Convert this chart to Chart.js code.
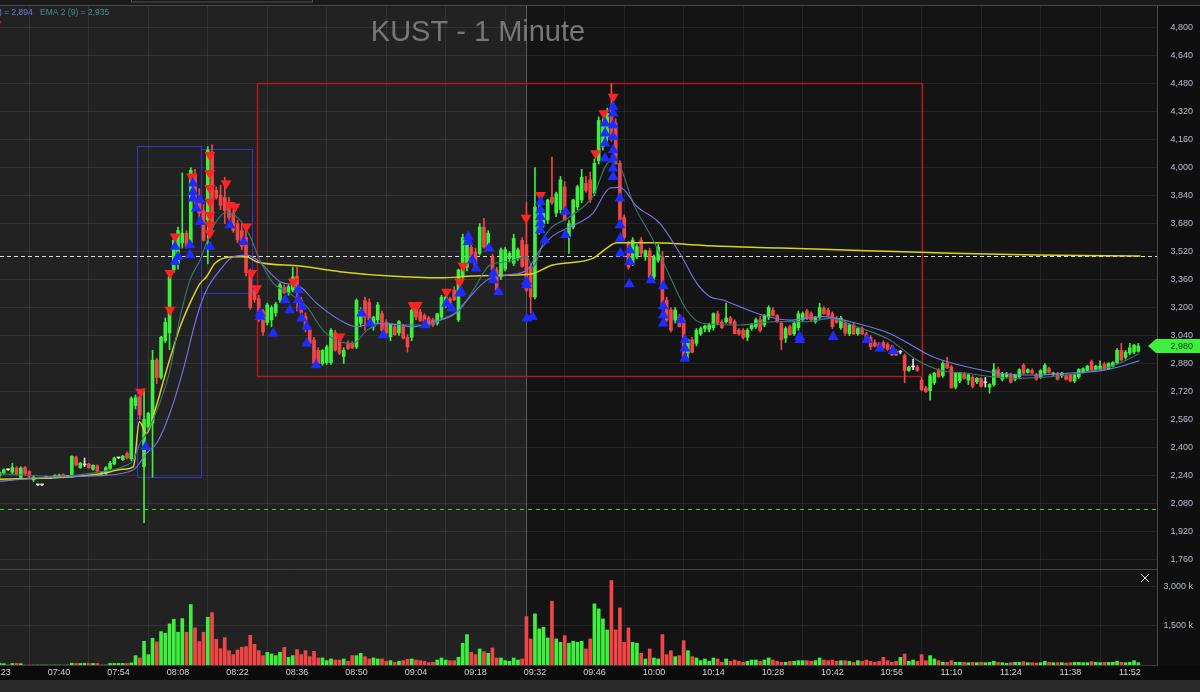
<!DOCTYPE html>
<html>
<head>
<meta charset="utf-8">
<script src="https://cdn.jsdelivr.net/npm/chart.js@4.4.1/dist/chart.umd.min.js"></script>
<style>
  html, body { margin: 0; padding: 0; background: #0f0f0f; }
  #wrap { width: 1200px; height: 692px; }
</style>
</head>
<body>
<div id="wrap"><canvas id="kust" width="1200" height="692"></canvas></div>
<script>
// one bar per minute, minute counted from 07:00
const firstMinute = 26;

const opens = [
  2240,2255,2272,2258,2282,2228,2285,2262,2215,2186,
  2186,2228,2226,2232,2232,2245,2235,2232,2345,2285,
  2300,2305,2275,2295,2250,2250,2280,2305,2340,2330,
  2365,2335,2640,2690,2290,2516,2540,2900,2800,3010,
  3055,3415,3450,3570,3625,3570,3960,3820,3755,3700,
  4090,3870,3840,3830,3800,3740,3680,3640,3600,3400,
  3300,3250,3180,3115,3130,3170,3243,3315,3285,3300,
  3380,3243,3150,3070,3015,2955,2880,2885,2885,3055,
  3015,2920,2998,2995,2975,3110,3240,3230,3090,3130,
  3165,3115,3033,3090,3055,3090,3030,3030,3200,3175,
  3155,3140,3130,3110,3145,3215,3250,3300,3130,3375,
  3430,3545,3515,3510,3660,3545,3490,3415,3375,3420,
  3480,3453,3480,3585,3560,3430,3260,3640,3680,3700,
  3830,3740,3760,3890,3605,3660,3775,3815,3910,3930,
  3855,4040,4120,4175,4330,4255,4025,3715,3568,3453,
  3490,3586,3490,3525,3375,3470,3490,3243,3186,3128,
  3148,3128,2940,3015,2995,3050,3080,3075,3085,3165,
  3115,3118,3140,3120,3070,3070,3030,3080,3090,3130,
  3100,3145,3185,3155,3110,3025,3090,3050,3085,3130,
  3180,3165,3120,3145,3195,3185,3165,3140,3085,3110,
  3050,3100,3050,3080,3050,3030,3000,2990,3000,2990,
  2975,2950,2945,2925,2840,2860,2860,2785,2740,2725,
  2770,2842,2810,2880,2860,2745,2780,2820,2785,2800,
  2775,2795,2770,2745,2760,2845,2790,2805,2815,2790,
  2805,2870,2830,2840,2815,2805,2825,2850,2820,2820,
  2810,2810,2815,2780,2805,2830,2840,2890,2845,2845,
  2875,2850,2865,2885,2955,2915,2940,2945,2950
];
const highs = [
  2262,2278,2278,2310,2290,2290,2292,2268,2235,2188,
  2188,2232,2230,2245,2248,2250,2238,2352,2350,2315,
  2340,2310,2300,2300,2254,2290,2320,2345,2344,2355,
  2375,2690,2700,2720,2735,2600,2956,2910,3035,3140,
  3390,3600,3660,3970,3640,4000,3990,3880,3790,4120,
  4130,3890,3900,3945,3830,3760,3700,3680,3660,3420,
  3320,3270,3190,3225,3210,3230,3340,3330,3330,3430,
  3430,3260,3170,3090,3030,2970,2960,2985,3080,3070,
  3030,2970,3010,3005,3250,3200,3260,3250,3150,3230,
  3180,3130,3110,3100,3125,3105,3045,3190,3215,3190,
  3165,3150,3140,3165,3270,3270,3260,3320,3420,3620,
  3600,3570,3540,3680,3710,3640,3505,3430,3540,3545,
  3520,3620,3540,3600,3800,3440,4000,3800,3760,3820,
  4060,3860,3950,3920,3700,3820,3900,3990,3950,3975,
  4050,4290,4280,4340,4480,4280,4040,3730,3580,3600,
  3560,3600,3530,3540,3500,3560,3520,3260,3200,3200,
  3160,3140,3020,3030,3080,3090,3100,3110,3170,3180,
  3130,3225,3150,3130,3080,3080,3080,3110,3140,3150,
  3160,3210,3200,3160,3120,3090,3100,3120,3180,3175,
  3190,3175,3150,3225,3205,3195,3175,3150,3150,3120,
  3110,3110,3085,3090,3060,3040,3015,3000,3010,3000,
  2985,2960,2955,2935,2865,2905,2870,2800,2750,2820,
  2830,2850,2890,2915,2870,2830,2830,2830,2820,2810,
  2800,2800,2800,2765,2880,2860,2830,2830,2825,2820,
  2850,2880,2850,2850,2825,2845,2880,2860,2830,2830,
  2830,2820,2820,2820,2850,2855,2870,2900,2870,2895,
  2885,2885,2890,2965,2995,2955,2995,2990,2995
];
const lows = [
  2225,2245,2268,2250,2240,2220,2240,2225,2205,2182,
  2182,2224,2222,2228,2230,2225,2232,2228,2295,2280,
  2290,2280,2270,2260,2246,2245,2275,2300,2336,2325,
  2335,2325,2620,2560,1970,2500,2230,2765,2790,3000,
  2960,3400,3420,3540,3540,3550,3790,3700,3580,3450,
  3640,3820,3760,3680,3700,3630,3570,3530,3380,3190,
  3230,3120,3040,3100,3090,3150,3230,3280,3270,3290,
  3180,3150,3060,2990,2870,2870,2870,2875,2875,2950,
  2930,2880,2960,2965,2965,3090,3070,3100,3070,3110,
  3060,3045,3010,3040,3040,3020,2945,3010,3130,3120,
  3100,3090,3090,3100,3135,3200,3200,3240,3120,3360,
  3410,3470,3420,3500,3540,3530,3410,3300,3360,3410,
  3460,3440,3470,3430,3290,3170,3250,3620,3660,3680,
  3790,3720,3740,3700,3510,3650,3760,3800,3860,3800,
  3840,4020,4100,4150,4150,4020,3690,3590,3420,3440,
  3480,3490,3470,3370,3360,3460,3190,3120,3060,3110,
  3090,2920,2900,2940,2980,3040,3060,3060,3070,3100,
  3080,3110,3105,3050,3040,3020,3010,3070,3080,3060,
  3090,3130,3150,3115,2960,3000,3040,3040,3070,3120,
  3130,3125,3110,3130,3160,3150,3080,3110,3075,3040,
  3040,3045,3040,3045,3010,2960,2975,2965,2965,2955,
  2925,2925,2935,2770,2835,2845,2835,2725,2715,2670,
  2760,2800,2800,2850,2740,2735,2770,2790,2760,2740,
  2765,2745,2745,2710,2750,2800,2780,2800,2770,2780,
  2795,2820,2825,2820,2785,2795,2820,2825,2810,2785,
  2800,2785,2775,2770,2795,2825,2835,2840,2840,2840,
  2840,2845,2860,2880,2895,2905,2930,2935,2945
];
const closes = [
  2258,2272,2272,2285,2250,2282,2250,2235,2230,2186,
  2186,2228,2226,2240,2242,2230,2235,2350,2300,2310,
  2300,2285,2298,2265,2250,2285,2310,2340,2340,2350,
  2340,2680,2685,2585,2560,2596,2899,2800,3030,3115,
  3375,3585,3640,3625,3545,3985,3820,3740,3585,4100,
  3660,3830,3785,3755,3715,3640,3585,3550,3400,3200,
  3245,3130,3060,3215,3200,3220,3330,3285,3320,3375,
  3300,3170,3075,2995,2880,2880,2955,2975,3070,2957,
  2940,2955,2965,2970,3240,3185,3145,3130,3145,3215,
  3070,3055,3110,3045,3120,3025,2975,3185,3145,3125,
  3115,3100,3100,3165,3260,3260,3205,3245,3415,3600,
  3585,3470,3430,3660,3545,3625,3415,3300,3530,3530,
  3510,3595,3530,3435,3300,3260,3775,3755,3740,3815,
  3800,3850,3930,3700,3680,3815,3890,3945,3870,3815,
  4025,4270,4250,4310,4160,4025,3700,3600,3430,3586,
  3548,3510,3525,3370,3490,3545,3200,3128,3070,3186,
  3090,2920,3015,2945,3070,3080,3095,3100,3165,3110,
  3085,3140,3110,3050,3050,3030,3070,3100,3130,3070,
  3155,3200,3155,3120,3015,3080,3045,3110,3165,3165,
  3140,3130,3145,3200,3165,3155,3090,3115,3140,3055,
  3100,3050,3080,3050,3015,2975,2980,2970,2970,2960,
  2930,2928,2945,2840,2858,2860,2840,2730,2720,2810,
  2825,2805,2880,2855,2740,2825,2825,2795,2815,2750,
  2795,2750,2770,2760,2845,2805,2820,2820,2775,2815,
  2845,2825,2845,2825,2790,2840,2870,2830,2825,2790,
  2825,2790,2780,2815,2845,2850,2865,2845,2865,2865,
  2845,2880,2885,2955,2900,2945,2970,2985,2980
];
// volume in thousands of shares
const volumes = [
  60,50,0,60,60,50,0,0,0,0,
  0,0,0,0,0,0,0,70,60,60,
  60,60,60,60,0,0,60,60,60,60,
  60,80,356,267,900,394,1016,876,1270,1206,
  1562,1740,1245,1765,1245,2299,1410,889,1245,1816,
  1994,978,622,1041,546,394,571,673,698,1130,
  787,546,356,483,419,356,483,673,292,356,
  584,394,546,318,521,267,267,165,229,190,
  190,229,140,356,356,445,318,229,267,229,
  229,140,165,102,140,165,216,229,190,165,
  140,89,102,190,267,190,165,165,292,826,
  1156,483,394,610,508,445,648,267,267,165,
  140,267,190,229,1842,991,1943,1372,1435,1029,
  2426,991,864,1118,826,902,864,902,610,991,
  2324,2134,1753,1334,3213,1334,2172,864,1410,864,
  826,445,229,610,267,229,1156,394,546,318,
  356,927,546,318,267,165,229,140,267,229,
  102,229,140,190,140,102,140,190,190,140,
  190,267,190,140,102,102,140,140,165,165,
  165,140,165,267,190,165,190,140,165,165,
  140,102,165,140,190,140,102,140,292,165,
  102,140,292,419,140,190,140,394,165,356,
  229,165,102,102,165,102,102,102,89,102,
  89,102,89,102,140,102,89,64,89,102,
  102,127,89,89,76,89,140,102,89,89,
  89,76,89,102,102,89,89,127,102,89,
  102,102,102,140,102,89,102,165,89
];

// indicator lines, read as [minute, price] points
const vwapLine = [[26,2218],[40,2228],[50,2250],[55,2275],[57.5,2290],[58.9,2547],[60.6,2480],[62.6,2614],
  [65.3,2842],[68.5,3090],[70.8,3224],[73.2,3338],[74.7,3376],[76.7,3453],[81,3490],[84.1,3490],[86.5,3462],
  [96.7,3437],[106.1,3405],[117.9,3380],[129.6,3370],[137.5,3380],[145.3,3385],[150.8,3390],[156.2,3443],
  [165.6,3481],[168.9,3540],[171.3,3570],[179.8,3570],[187.8,3561],[193.2,3553],[210,3540],[230,3525],
  [250,3510],[270,3500],[294.5,3495]];
const ema9Line = [[26,2250],[40,2235],[50,2262],[55,2290],[57.5,2330],[59,2420],[60.6,2482],[63.7,2654],
  [66.1,2842],[68.5,3146],[70.8,3357],[73.2,3472],[76.2,3660],[79.5,3745],[82.6,3700],[84.9,3610],[87.3,3470],
  [90.4,3340],[93.6,3290],[98.3,3205],[102.1,3071],[106.1,3004],[109.2,2995],[112.5,3071],[116.2,3112],
  [121.8,3100],[126.5,3100],[131.3,3148],[134.3,3186],[137.5,3300],[141.4,3443],[145.3,3462],[150.1,3490],
  [151.4,3433],[154.8,3626],[160.2,3719],[165.6,3834],[169.6,4034],[172,4005],[175.1,3797],[179.8,3586],
  [183.8,3376],[187.7,3186],[191.5,3110],[200.2,3100],[208,3119],[216,3119],[221.4,3138],[227.7,3090],
  [235.5,3015],[241.9,2900],[247.3,2842],[253.6,2824],[259.8,2804],[265.4,2795],[277.1,2814],[281.9,2833],
  [287.3,2861],[291.3,2900],[294.3,2938]];
const ema20Line = [[26,2207],[35,2225],[45,2235],[55,2253],[58,2282],[60.6,2368],[63,2425],[66.1,2597],
  [69.2,2842],[72.4,3146],[74.7,3300],[77.9,3415],[81,3490],[84.2,3500],[87.3,3460],[90.4,3380],[92,3348],
  [96.7,3319],[100.6,3225],[106.1,3128],[110.1,3090],[113.9,3110],[120.2,3100],[123.3,3090],[128,3119],
  [132.7,3157],[136,3243],[140.7,3357],[145.3,3385],[150.1,3415],[153.2,3530],[156.2,3610],[160.2,3660],
  [165.6,3739],[169.6,3882],[172,3887],[176,3777],[181.4,3681],[186.1,3510],[190.1,3338],[193.2,3262],
  [196.2,3243],[204.2,3167],[212,3128],[219.8,3148],[227.7,3110],[235.5,3052],[243.3,2947],[245.6,2919],
  [253.6,2861],[261.4,2824],[269.2,2814],[277.1,2824],[284.9,2838],[289.6,2861],[294.3,2896]];

// trade markers [minute, price]
const buyMarks = [[60.4,2404],[67.3,3548],[68,3490],[67.3,3462],[70.8,3557],[70.8,3500],[71.5,3910],[71.5,3862],
  [71.5,3824],[72.3,3767],[73.2,3815],[73.2,3690],[75.5,3548],[80.2,3672],[83.4,3576],[87.3,3167],[87.3,3148],
  [90.4,3052],[93.2,3243],[94.3,3186],[96.3,3300],[96.3,3243],[97.1,3205],[97.1,3138],[98.3,3090],[98.3,2995],
  [100.5,2871],[111.2,3167],[113.2,3110],[116.3,3043],[126.1,3100],[131.2,3224],[132.4,3195],[134.3,3281],
  [134.6,3290],[136.3,3605],[136.3,3576],[137.3,3472],[138.1,3424],[141.2,3539],[142.2,3396],[142.2,3357],
  [143.4,3290],[150,3348],[150,3329],[150.1,3138],[151.4,3148],[153.3,3805],[153.3,3757],[153.3,3719],
  [153.3,3681],[153.3,3643],[154.3,3586],[159.2,3748],[159.2,3615],[168.5,4253],[168.5,4196],[168.5,4139],
  [168.5,4053],[170.4,4348],[170.4,4310],[170.4,4243],[170.4,4177],[170.4,4101],[170.4,4053],[170.4,3996],
  [170.4,3948],[172,3824],[172,3672],[172.1,3596],[172.1,3510],[174.3,3529],[174.3,3462],[174.2,3334],
  [179.3,3357],[182.2,3323],[182.2,3208],[182.2,3157],[182.2,3110],[186.3,3128],[187.3,3015],[187.3,2967],
  [187.3,2910],[214.3,3033],[214.3,3015],[222.2,3033],[230.2,3015],[233.2,2967],[236.3,2953]];
const sellMarks = [[59.2,2718],[66.1,3186],[66.1,3396],[67.3,3605],[71.2,3948],[75.5,4072],[75.5,3968],
  [75.5,3883],[75.5,3805],[75.5,3729],[75.5,3672],[75.5,3626],[79.3,3910],[80.2,3786],[81.4,3777],[84.1,3662],
  [85.3,3396],[86.5,3310],[95.1,3348],[106.1,3033],[123.3,3214],[124.3,3214],[131.2,3290],[134.3,3348],
  [135.1,3438],[149.9,3712],[153.3,3843],[166.3,4082],[168.2,4310],[170.4,4405]];

// drawn boxes [fromMinute, toMinute, lowPrice, highPrice]
const redBox = [86.6, 243.0, 2808, 4484];
const blueBoxes = [[58.3, 73.3, 2230, 4124], [73.3, 85.3, 3283, 4106]];
const dashedWhite = 3494;
const dashedGreen = 2046;
const sessionOpen = 150; // 09:30
const lastPrice = 2980;

const timeTicks = [26,40,54,68,82,96,110,124,138,152,166,180,194,208,222,236,250,264,278,292];
const timeLabels = ["07:23","07:40","07:54","08:08","08:22","08:36","08:50","09:04","09:18","09:32",
  "09:46","10:00","10:14","10:28","10:42","10:56","11:10","11:24","11:38","11:52"];
const priceTicks = [1760,1920,2080,2240,2400,2560,2720,2880,3040,3200,3360,3520,3680,3840,4000,4160,4320,4480,4640,4800];
const volumeTicks = [1500, 3000];

const UP = '#3ef03e', DOWN = '#f24646', DOJI = '#e6e6e6';
const FONT = "'Liberation Sans', Arial, sans-serif";
const fmt = v => String(Math.round(v)).replace(/\B(?=(\d{3})+(?!\d))/g, ',');

const minutes = opens.map((_, i) => firstMinute + i);
const candleColors = opens.map((o, i) => closes[i] > o ? UP : closes[i] < o ? DOWN : DOJI);
const volColors = opens.map((o, i) => closes[i] >= o ? UP : DOWN);
const pts = arr => arr.map(([x, y]) => ({ x, y }));

// right axis: 36px wide plus 7px canvas margin, labels end 7px from the edge
const fitRightAxis = s => { s.width = 36; s.paddingTop = 0; s.paddingBottom = 0; };

Chart.defaults.font.family = FONT;

const frame = {
  id: 'frame',
  beforeDraw(chart) {
    const { ctx, chartArea: a, scales: { x } } = chart;
    const W = chart.width, H = chart.height;
    const open = x.getPixelForValue(sessionOpen);
    ctx.save();
    ctx.fillStyle = '#0f0f0f';
    ctx.fillRect(0, 0, W, H);
    ctx.fillStyle = '#222222';
    ctx.fillRect(a.left, a.top, open - a.left, a.bottom - a.top);
    ctx.fillStyle = '#141414';
    ctx.fillRect(open, a.top, a.right - open, a.bottom - a.top);
    ctx.fillStyle = '#1a1a1a';
    ctx.fillRect(0, 0, W, a.top);
    ctx.fillStyle = '#0b0b0b';
    ctx.fillRect(0, a.bottom, W, x.bottom - a.bottom);
    ctx.fillStyle = '#2b2b2b';
    ctx.fillRect(0, x.bottom, W, H - x.bottom);
    ctx.restore();
  },
  beforeDatasetsDraw(chart) {
    const { ctx, chartArea: a, scales: { x, y } } = chart;
    ctx.save();
    // session open divider
    const open = Math.round(x.getPixelForValue(sessionOpen)) + 0.5;
    ctx.strokeStyle = '#5c5c5c';
    ctx.lineWidth = 1;
    ctx.beginPath(); ctx.moveTo(open, a.top); ctx.lineTo(open, a.bottom); ctx.stroke();
    // pane separator + top edge
    ctx.strokeStyle = '#474747';
    ctx.beginPath(); ctx.moveTo(0, Math.round(y.bottom) + 0.5); ctx.lineTo(a.right, Math.round(y.bottom) + 0.5); ctx.stroke();
    ctx.beginPath(); ctx.moveTo(0, a.top + 0.5); ctx.lineTo(chart.width, a.top + 0.5); ctx.stroke();
    // horizontal dashed levels
    ctx.setLineDash([4, 3]);
    ctx.strokeStyle = '#dcdcdc';
    let py = Math.round(y.getPixelForValue(dashedWhite)) + 0.5;
    ctx.beginPath(); ctx.moveTo(a.left, py); ctx.lineTo(a.right, py); ctx.stroke();
    ctx.setLineDash([4, 4]);
    ctx.strokeStyle = '#2ee02e';
    ctx.lineWidth = 1;
    py = Math.round(y.getPixelForValue(dashedGreen)) + 0.5;
    ctx.beginPath(); ctx.moveTo(a.left, py); ctx.lineTo(a.right, py); ctx.stroke();
    ctx.setLineDash([]);
    // boxes
    const box = (b, color, w) => {
      const x0 = x.getPixelForValue(b[0]), x1 = x.getPixelForValue(b[1]);
      const y0 = y.getPixelForValue(b[3]), y1 = y.getPixelForValue(b[2]);
      ctx.strokeStyle = color; ctx.lineWidth = w;
      ctx.strokeRect(Math.round(x0) + 0.5, Math.round(y0) + 0.5, Math.round(x1 - x0), Math.round(y1 - y0));
    };
    blueBoxes.forEach(b => box(b, '#3434cc', 1));
    box(redBox, '#bb1616', 1.4);
    ctx.restore();
  },
  afterDraw(chart) {
    const { ctx, chartArea: a, scales: { x, y } } = chart;
    ctx.save();
    // toolbar outline at the very top
    ctx.strokeStyle = '#555';
    ctx.lineWidth = 1;
    ctx.strokeRect(131.5, -4, 181, 6);
    // title
    ctx.fillStyle = '#777777';
    ctx.font = '29px ' + FONT;
    ctx.textAlign = 'center';
    ctx.textBaseline = 'middle';
    ctx.fillText('KUST - 1 Minute', 478, 33);
    // indicator legend
    ctx.font = '8.5px ' + FONT;
    ctx.textAlign = 'left';
    ctx.fillStyle = '#7674e6';
    ctx.fillText(') = 2,894', -1, 13);
    ctx.fillStyle = '#4d8a8a';
    ctx.fillText('EMA 2 (9) = 2,935', 40, 13);
    ctx.fillStyle = '#e02020';
    ctx.fillText('7', -3, 25);
    // time labels
    ctx.font = '9px ' + FONT;
    ctx.fillStyle = '#d2d2d2';
    ctx.textAlign = 'center';
    timeTicks.forEach((t, i) => ctx.fillText(timeLabels[i], x.getPixelForValue(t), a.bottom + 8));
    // last price tag
    const ty = Math.round(y.getPixelForValue(lastPrice));
    ctx.fillStyle = '#3ef03e';
    ctx.beginPath();
    ctx.moveTo(1148, ty); ctx.lineTo(1156, ty - 7); ctx.lineTo(1200, ty - 7);
    ctx.lineTo(1200, ty + 7); ctx.lineTo(1156, ty + 7); ctx.closePath(); ctx.fill();
    ctx.fillStyle = '#0b3a0b';
    ctx.textAlign = 'right';
    ctx.fillText(fmt(lastPrice), 1193, ty + 0.5);
    // close cross on volume pane
    ctx.strokeStyle = '#e8e8e8';
    ctx.beginPath();
    ctx.moveTo(1141, 574); ctx.lineTo(1149, 582);
    ctx.moveTo(1149, 574); ctx.lineTo(1141, 582);
    ctx.stroke();
    ctx.restore();
  }
};

new Chart(document.getElementById('kust'), {
  type: 'bar',
  data: {
    datasets: [
      { type: 'scatter', data: pts(buyMarks), pointStyle: 'triangle', pointRadius: 6.3,
        backgroundColor: '#1e2cff', pointBackgroundColor: '#1e2cff', pointBorderWidth: 0, borderWidth: 0, order: 0 },
      { type: 'scatter', data: pts(sellMarks), pointStyle: 'triangle', pointRadius: 6.3, rotation: 180, pointRotation: 180,
        backgroundColor: '#ff2424', pointBackgroundColor: '#ff2424', pointBorderWidth: 0, borderWidth: 0, order: 0 },
      { type: 'line', data: pts(ema20Line), borderColor: '#7876e8', borderWidth: 1.1, pointRadius: 0,
        cubicInterpolationMode: 'monotone', order: 1 },
      { type: 'line', data: pts(ema9Line), borderColor: '#3c7878', borderWidth: 1.1, pointRadius: 0,
        cubicInterpolationMode: 'monotone', order: 1 },
      { type: 'line', data: pts(vwapLine), borderColor: '#d9d41e', borderWidth: 1.5, pointRadius: 0,
        cubicInterpolationMode: 'monotone', order: 1 },
      { type: 'bar', data: minutes.map((t, i) => ({ x: t, y: [opens[i], closes[i]] })),
        backgroundColor: candleColors, maxBarThickness: 3, minBarLength: 1, grouped: false,
        barPercentage: 1, categoryPercentage: 1, order: 2, yAxisID: 'y' },
      { type: 'bar', data: minutes.map((t, i) => ({ x: t, y: [lows[i], highs[i]] })),
        backgroundColor: candleColors, maxBarThickness: 1, grouped: false,
        barPercentage: 1, categoryPercentage: 1, order: 3, yAxisID: 'y' },
      { type: 'bar', data: minutes.map((t, i) => ({ x: t, y: volumes[i] })),
        backgroundColor: volColors, maxBarThickness: 3, grouped: false,
        barPercentage: 1, categoryPercentage: 1, order: 4, yAxisID: 'yv' }
    ]
  },
  options: {
    responsive: false,
    animation: false,
    devicePixelRatio: 1,
    layout: { autoPadding: false, padding: { top: 5, bottom: 12, left: 0, right: 7 } },
    plugins: { legend: { display: false }, tooltip: { enabled: false } },
    scales: {
      x: {
        type: 'linear', min: 26.1, max: 298.4, offset: false,
        afterBuildTicks: s => { s.ticks = timeTicks.map(v => ({ value: v })); },
        afterFit: s => { s.height = 15; s.paddingLeft = 0; s.paddingRight = 0; },
        ticks: { display: false },
        grid: { color: 'rgba(255,255,255,0.075)', drawTicks: false, tickLength: 0 },
        border: { display: true, color: '#3a3a3a' }
      },
      y: {
        type: 'linear', position: 'right', stack: 'panes', stackWeight: 564,
        min: 1705, max: 4930,
        afterBuildTicks: s => { s.ticks = priceTicks.map(v => ({ value: v })); },
        afterFit: fitRightAxis,
        ticks: { color: '#b4bccb', font: { size: 9 }, padding: 4, crossAlign: 'far', callback: v => fmt(v) },
        grid: { color: 'rgba(255,255,255,0.075)', drawTicks: false, tickLength: 0 },
        border: { display: true, color: '#4a4a4a' }
      },
      yv: {
        type: 'linear', position: 'right', stack: 'panes', stackWeight: 96,
        min: 0, max: 3650,
        afterBuildTicks: s => { s.ticks = volumeTicks.map(v => ({ value: v })); },
        afterFit: fitRightAxis,
        ticks: { color: '#b4bccb', font: { size: 9 }, padding: 4, crossAlign: 'far', callback: v => fmt(v) + ' k' },
        grid: { color: 'rgba(255,255,255,0.075)', drawTicks: false, tickLength: 0 },
        border: { display: true, color: '#4a4a4a' }
      }
    }
  },
  plugins: [frame]
});
</script>
</body>
</html>
